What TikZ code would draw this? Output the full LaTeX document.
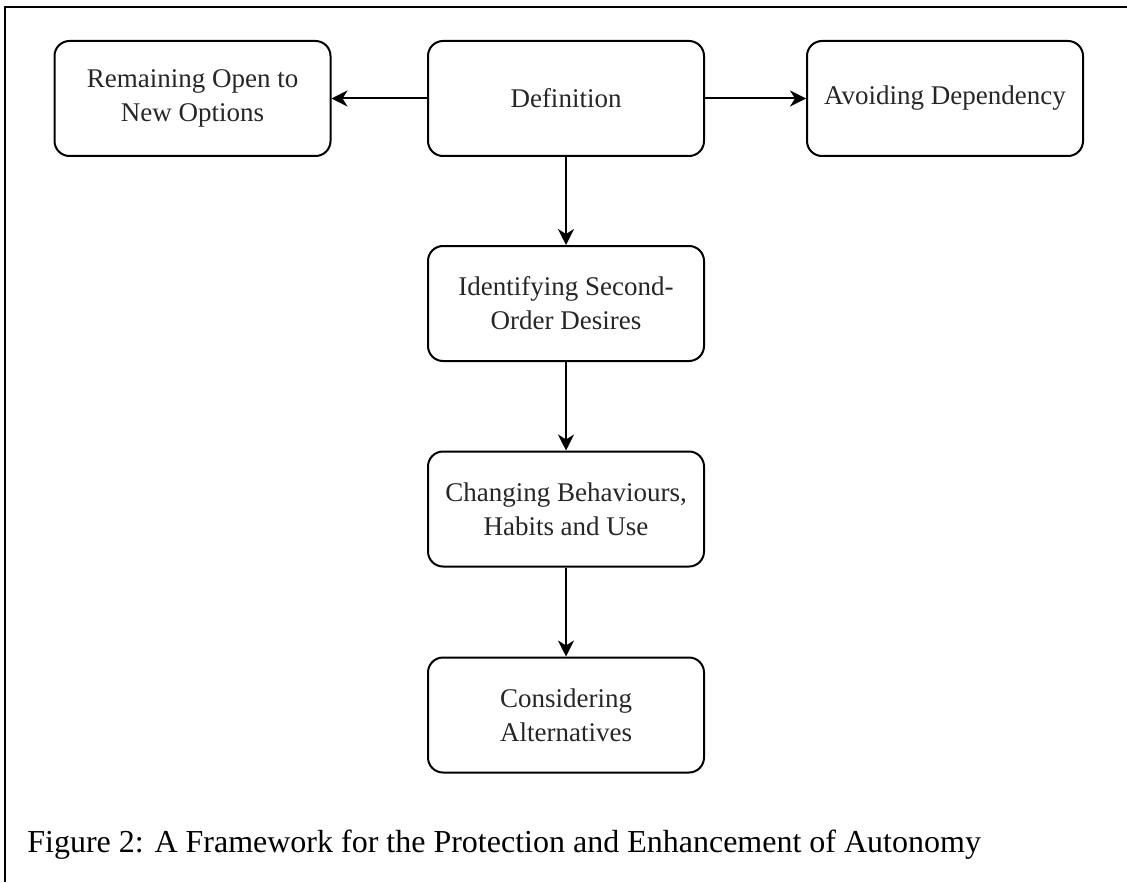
\documentclass[tikz,border=0pt]{standalone}
\usepackage{fontspec}
\setmainfont{Liberation Serif}
\usepackage{tikz}
\usetikzlibrary{arrows.meta, positioning, calc}

\tikzset{
    stage/.style={draw, line width=1pt, rounded corners=7.5pt, minimum width=138pt, minimum height=57.5pt,
        align=center, text=black!85, font=\fontsize{13.5}{17}\selectfont},
    flow/.style={line width=1pt, -{Stealth[length=8pt, width=8pt, inset=2.5pt]}}
}

\begin{document}
\begin{tikzpicture}[x=0.5pt, y=-0.5pt]
    \useasboundingbox (0, 0) rectangle (1127, 882);
    \draw[line width=1pt] (1127, 7) -- (5, 7) -- (5, 882);

    \node[stage] (defn) at (566, 98.5) {Definition};
    \node[stage] (remain) at (192.5, 98.5) {Remaining Open to\\New Options};
    \node[stage] (avoid) at (945, 98.5) {Avoiding Dependency};
    \node[stage] (ident) at (566, 303.5) {Identifying Second-\\Order Desires};
    \node[stage] (change) at (566, 509) {Changing Behaviours,\\Habits and Use};
    \node[stage] (consid) at (566, 715) {Considering\\Alternatives};

    \draw[flow] (defn) -- (remain);
    \draw[flow] (defn) -- (avoid);
    \draw[flow] (defn) -- (ident);
    \draw[flow] (ident) -- (change);
    \draw[flow] (change) -- (consid);

    \node[anchor=base west, inner sep=0pt, font=\fontsize{16}{19}\selectfont] (caption) at (27, 852)
        {Figure 2: A Framework for the Protection and Enhancement of Autonomy};
\end{tikzpicture}
\end{document}
